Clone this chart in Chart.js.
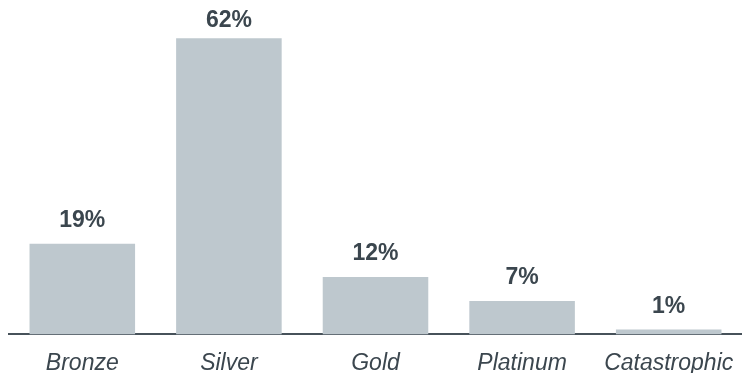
<!DOCTYPE html>
<html>
<head>
<meta charset="utf-8">
<script src="https://cdn.jsdelivr.net/npm/chart.js@4/dist/chart.umd.min.js"></script>
<style>
  html, body { margin: 0; padding: 0; background: #fff; }
  #wrap { width: 742px; height: 373px; }
</style>
</head>
<body>
<div id="wrap"><canvas id="tierChart"></canvas></div>
<script>
const categories = ['Bronze', 'Silver', 'Gold', 'Platinum', 'Catastrophic'];
const shares = [19, 62, 12, 7, 1];

// draws the percent text above every bar, kept inside the top edge
const barLabels = {
    id: 'barLabels',
    afterDatasetsDraw(chart) {
        const ctx = chart.ctx;
        const meta = chart.getDatasetMeta(0);
        ctx.save();
        ctx.font = 'bold 23px Arial, sans-serif';
        ctx.fillStyle = '#3b464e';
        ctx.textAlign = 'center';
        ctx.textBaseline = 'alphabetic';
        meta.data.forEach((bar, i) => {
            const y = Math.max(bar.y - 17, 27);
            ctx.fillText(shares[i] + '%', bar.x, y);
        });
        ctx.restore();
    }
};

new Chart(document.getElementById('tierChart'), {
    type: 'bar',
    data: {
        labels: categories,
        datasets: [{
            data: shares,
            backgroundColor: '#bec8ce',
            borderWidth: 0,
            categoryPercentage: 0.72,
            barPercentage: 1
        }]
    },
    options: {
        responsive: true,
        maintainAspectRatio: false,
        animation: false,
        layout: { padding: { left: 9, right: -3, top: 0, bottom: -11 } },
        plugins: {
            legend: { display: false },
            tooltip: { enabled: false }
        },
        scales: {
            y: {
                display: false,
                min: 0,
                max: 70
            },
            x: {
                grid: { display: false },
                border: { display: true, color: '#47525a', width: 2 },
                ticks: {
                    color: '#3b464e',
                    padding: 7,
                    font: { family: 'Arial, sans-serif', size: 23, style: 'italic' }
                }
            }
        }
    },
    plugins: [barLabels]
});
</script>
</body>
</html>
